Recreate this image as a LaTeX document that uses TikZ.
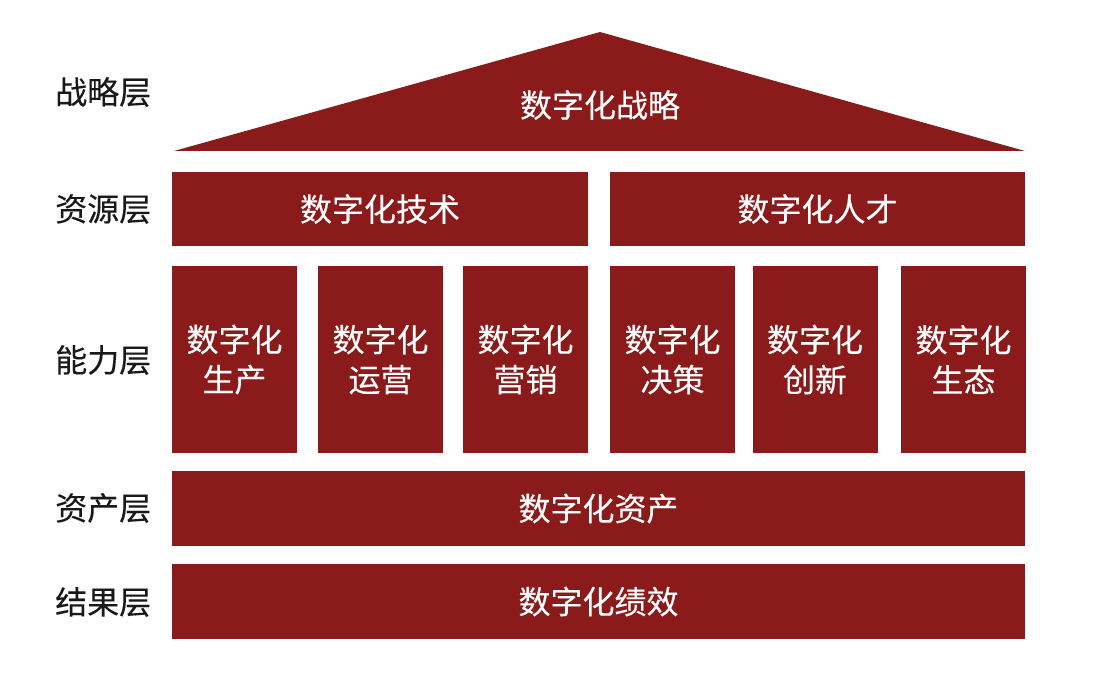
\documentclass[tikz,border=0pt]{standalone}
\usepackage{fontspec}
\setmainfont{Noto Sans CJK SC}[BoldFont=Noto Sans CJK SC,BoldFeatures={FakeBold=0.2}]
\definecolor{housered}{RGB}{139,26,27}
\definecolor{labelgray}{RGB}{25,25,25}
\tikzset{every node/.style={font=\fontsize{32}{40}\selectfont\bfseries},
  block/.style={fill=housered,text=white,inner sep=0pt,align=center},
  layer/.style={text=labelgray,anchor=west,inner sep=0pt}}

\begin{document}
\begin{tikzpicture}[x=1pt,y=-1pt]
    \useasboundingbox (0,0) rectangle (1108,692);
    \fill[housered] (174,151) -- (600,32) -- (1025,151) -- cycle;
    \node[text=white] (strategy) at (600,105) {数字化战略};

    \node[block,minimum width=416pt,minimum height=74pt] (tech) at (380,209) {数字化技术};
    \node[block,minimum width=415pt,minimum height=74pt] (talent) at (817.5,209) {数字化人才};

    \foreach \x/\n/\t in {234.5/prod/生产,380.5/ops/运营,525.5/mkt/营销,672.5/dec/决策,815/inno/创新,963.5/eco/生态}{
        \node[block,minimum width=125pt,minimum height=187pt] (cap\n) at (\x,359.5) {数字化\\\t};
    }

    \node[block,minimum width=853pt,minimum height=75pt] (assets) at (598.5,508.5) {数字化资产};
    \node[block,minimum width=853pt,minimum height=75pt] (perf) at (598.5,601.5) {数字化绩效};

    \foreach \y/\n/\t in {92/str/战略层,209/res/资源层,360/abl/能力层,508/ast/资产层,602/out/结果层}{
        \node[layer] (lab\n) at (55,\y) {\t};
    }
\end{tikzpicture}
\end{document}
